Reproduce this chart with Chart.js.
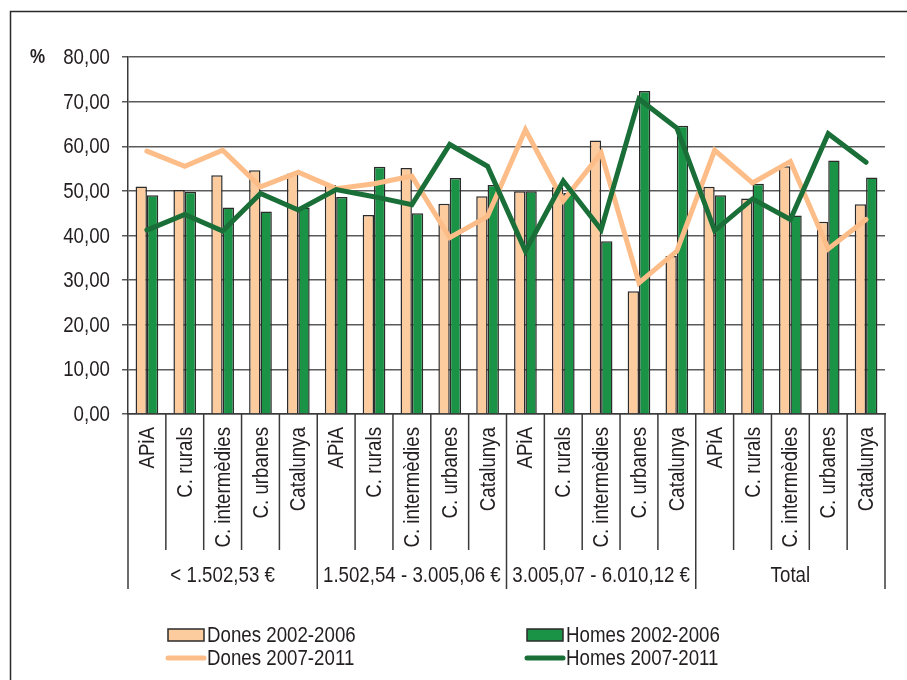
<!DOCTYPE html>
<html>
<head>
<meta charset="utf-8">
<script src="https://cdn.jsdelivr.net/npm/chart.js@4"></script>
<style>
  body { margin: 0; background: #fff; }
  canvas { display: block; }
</style>
</head>
<body>
<canvas id="chart" width="907" height="680"></canvas>
<script>
const groups = ["< 1.502,53 €", "1.502,54 - 3.005,06 €", "3.005,07 - 6.010,12 €", "Total"];
const zones = ["APiA", "C. rurals", "C. intermèdies", "C. urbanes", "Catalunya"];
const yTicks = [0, 10, 20, 30, 40, 50, 60, 70, 80];

const dones0206 = [51.0, 50.2, 53.5, 54.6, 53.9, 51.3, 44.6, 55.1, 47.1, 48.8, 49.9, 50.8, 61.3, 27.5, 35.4, 50.9, 48.3, 55.5, 43.1, 47.0];
const homes0206 = [49.0, 49.8, 46.3, 45.4, 46.3, 48.6, 55.4, 45.0, 52.9, 51.3, 49.9, 49.5, 38.7, 72.4, 64.6, 49.0, 51.6, 44.5, 56.8, 53.0];
const dones0711 = [58.9, 55.5, 59.1, 50.9, 54.2, 50.5, 51.6, 53.3, 39.5, 44.3, 63.7, 47.8, 58.5, 29.4, 36.5, 59.1, 51.8, 56.6, 37.0, 43.6];
const homes0711 = [41.2, 44.7, 41.0, 49.4, 45.7, 50.3, 48.7, 46.9, 60.4, 55.5, 36.5, 52.2, 41.3, 70.6, 64.1, 41.1, 48.2, 43.6, 62.8, 56.4];

const labels = [];
groups.forEach(() => zones.forEach((z) => labels.push(z)));

// the original uses a narrow grotesque; squeeze Liberation Sans to get the same look
const FONT = "'Liberation Sans', Arial, sans-serif";
const SQUEEZE = 0.85;
const TEXT = "#231f20";
const LINE = "#3a3a3a";

const fmt = (v) => v.toFixed(2).replace(".", ",");

const narrowText = (ctx, text, x, y, align, angle) => {
  ctx.save();
  ctx.translate(x, y);
  if (angle) ctx.rotate(angle);
  ctx.scale(SQUEEZE, 1);
  ctx.textAlign = align;
  ctx.fillText(text, 0, 0);
  ctx.restore();
};

// tick labels, separators under the x axis, group names, legend, frame
const decorations = {
  id: "decorations",
  afterDraw(chart) {
    const ctx = chart.ctx;
    const x = chart.scales.x;
    const y = chart.scales.y;
    const area = chart.chartArea;
    const step = x.getPixelForValue(1) - x.getPixelForValue(0);
    const per = zones.length;

    ctx.save();
    ctx.strokeStyle = LINE;
    ctx.lineWidth = 1.5;
    for (let i = 0; i <= labels.length; i++) {
      const px = x.getPixelForValue(0) - step / 2 + i * step;
      const isGroup = i % per === 0;
      ctx.beginPath();
      ctx.moveTo(px, area.bottom);
      ctx.lineTo(px, isGroup ? 589 : 550);
      ctx.stroke();
    }

    ctx.fillStyle = TEXT;
    ctx.font = "22px " + FONT;
    ctx.textBaseline = "middle";

    // y tick labels
    yTicks.forEach((v) => {
      narrowText(ctx, fmt(v), area.left - 18, y.getPixelForValue(v) + 1, "right");
    });

    // category labels, rotated
    labels.forEach((l, i) => {
      narrowText(ctx, l, x.getPixelForValue(i) + 1, area.bottom + 13, "right", -Math.PI / 2);
    });

    // group names
    groups.forEach((g, gi) => {
      const left = x.getPixelForValue(gi * per) - step / 2;
      narrowText(ctx, g, left + (step * per) / 2, 576, "center");
    });

    // % label
    ctx.font = "bold 20px " + FONT;
    narrowText(ctx, "%", 30, area.top, "left");

    // legend
    const ds = chart.data.datasets;
    const items = [
      { d: ds[0], x: 168, y: 635 },
      { d: ds[1], x: 527, y: 635 },
      { d: ds[2], x: 168, y: 658 },
      { d: ds[3], x: 527, y: 658 },
    ];
    ctx.font = "22px " + FONT;
    items.forEach((it) => {
      if (it.d.type === "line") {
        ctx.strokeStyle = it.d.borderColor;
        ctx.lineWidth = 5;
        ctx.lineCap = "round";
        ctx.beginPath();
        ctx.moveTo(it.x, it.y);
        ctx.lineTo(it.x + 36, it.y);
        ctx.stroke();
      } else {
        ctx.fillStyle = it.d.backgroundColor;
        ctx.fillRect(it.x, it.y - 6, 36, 12);
        ctx.strokeStyle = it.d.borderColor;
        ctx.lineWidth = 1.5;
        ctx.strokeRect(it.x, it.y - 6, 36, 12);
      }
      ctx.fillStyle = TEXT;
      narrowText(ctx, it.d.label, it.x + 39, it.y + 1, "left");
    });

    // frame
    ctx.strokeStyle = "#2a2a2a";
    ctx.lineWidth = 1.5;
    ctx.lineCap = "butt";
    ctx.beginPath();
    ctx.moveTo(10.5, 680);
    ctx.lineTo(10.5, 11.5);
    ctx.lineTo(907, 11.5);
    ctx.stroke();
    ctx.restore();
  },
};

new Chart(document.getElementById("chart"), {
  type: "bar",
  data: {
    labels: labels,
    datasets: [
      {
        label: "Dones 2002-2006",
        data: dones0206,
        backgroundColor: "#fccb9e",
        borderColor: "#2b2b2b",
        borderWidth: 1.5,
        order: 2,
      },
      {
        label: "Homes 2002-2006",
        data: homes0206,
        backgroundColor: "#1b9347",
        borderColor: "#2b2b2b",
        borderWidth: 1.5,
        order: 3,
      },
      {
        type: "line",
        label: "Dones 2007-2011",
        data: dones0711,
        borderColor: "#fdbd89",
        borderWidth: 5,
        pointRadius: 0,
        tension: 0,
        borderCapStyle: "round",
        order: 1,
      },
      {
        type: "line",
        label: "Homes 2007-2011",
        data: homes0711,
        borderColor: "#1a6e37",
        borderWidth: 5,
        pointRadius: 0,
        tension: 0,
        borderCapStyle: "round",
        order: 0,
      },
    ],
  },
  options: {
    responsive: false,
    animation: false,
    layout: { padding: { top: 57, right: 22, left: 0, bottom: 0 } },
    datasets: {
      bar: { categoryPercentage: 0.6, barPercentage: 1.0 },
    },
    plugins: {
      legend: { display: false },
      tooltip: { enabled: false },
    },
    scales: {
      x: {
        grid: { display: false },
        border: { color: LINE, width: 1.5 },
        ticks: { display: false },
        afterFit: (scale) => {
          scale.height = 680 - 414;
        },
      },
      y: {
        min: 0,
        max: 80,
        afterBuildTicks: (scale) => {
          scale.ticks = yTicks.map((v) => ({ value: v }));
        },
        grid: {
          color: "#5a5a5a",
          lineWidth: 1.5,
          tickLength: 6,
        },
        border: { color: LINE, width: 1.5 },
        ticks: { display: false },
        afterFit: (scale) => {
          scale.width = 128;
        },
      },
    },
  },
  plugins: [decorations],
});
</script>
</body>
</html>
